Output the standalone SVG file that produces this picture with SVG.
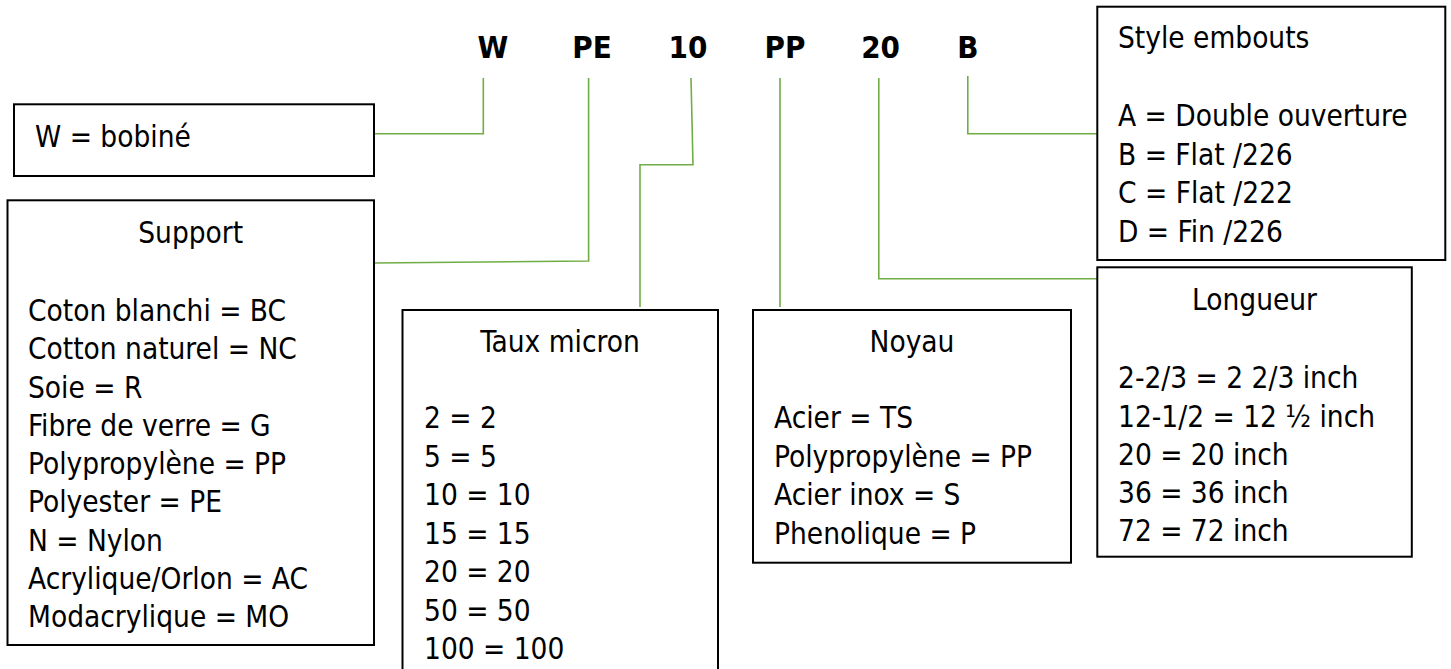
<svg xmlns="http://www.w3.org/2000/svg" width="1451" height="669" viewBox="0 0 1451 669">
<style>
.box{fill:#fff;stroke:#000;stroke-width:2}
.t{font-family:"DejaVu Sans Condensed","DejaVu Sans",sans-serif;font-size:29.5px;fill:#000}
.c{text-anchor:middle}
.code{font-family:"DejaVu Sans Condensed","DejaVu Sans",sans-serif;font-weight:bold;font-size:31px;fill:#000;text-anchor:middle}
.conn{fill:none;stroke:#70ad47;stroke-width:1.6}
</style>
<rect width="1451" height="669" fill="#fff"/>
<g id="connectors">
<polyline class="conn" points="374,133.7 483.3,133.7 483.3,78"/>
<polyline class="conn" points="374,263 588.6,261 588.6,78"/>
<polyline class="conn" points="691,78 693,164.7 640,164.7 640,307"/>
<polyline class="conn" points="780,78 780,307"/>
<polyline class="conn" points="878.8,78 878.8,278.7 1097,278.7"/>
<polyline class="conn" points="967.8,76 967.8,133.7 1097,133.7"/>
</g>
<g id="codes">
<text class="code" x="493" y="58">W</text>
<text class="code" x="592" y="58">PE</text>
<text class="code" x="688" y="58">10</text>
<text class="code" x="785" y="58">PP</text>
<text class="code" x="880.6" y="58">20</text>
<text class="code" x="967.8" y="58">B</text>
</g>
<g id="node-w">
<rect class="box" x="14" y="104.3" width="360" height="71.7"/>
<text class="t" x="35" y="147">W = bobiné</text>
</g>
<g id="node-support">
<rect class="box" x="7.5" y="200.3" width="366.5" height="444.7"/>
<text class="t c" x="190.7" y="243.3">Support</text>
<text class="t" x="28" y="320.7">Coton blanchi = BC</text>
<text class="t" x="28" y="359.2">Cotton naturel = NC</text>
<text class="t" x="28" y="397.5">Soie = R</text>
<text class="t" x="28" y="435.8">Fibre de verre = G</text>
<text class="t" x="28" y="474.1">Polypropylène = PP</text>
<text class="t" x="28" y="512.4">Polyester = PE</text>
<text class="t" x="28" y="550.7">N = Nylon</text>
<text class="t" x="28" y="589">Acrylique/Orlon = AC</text>
<text class="t" x="28" y="627.3">Modacrylique = MO</text>
</g>
<g id="node-taux">
<rect class="box" x="402.5" y="310" width="315.5" height="380"/>
<text class="t c" x="560" y="351.7">Taux micron</text>
<text class="t" x="424" y="428.3">2 = 2</text>
<text class="t" x="424" y="466.7">5 = 5</text>
<text class="t" x="424" y="505.2">10 = 10</text>
<text class="t" x="424" y="543.7">15 = 15</text>
<text class="t" x="424" y="582.2">20 = 20</text>
<text class="t" x="424" y="620.7">50 = 50</text>
<text class="t" x="424" y="659.2">100 = 100</text>
</g>
<g id="node-noyau">
<rect class="box" x="753" y="310" width="318" height="252.7"/>
<text class="t c" x="912" y="351.7">Noyau</text>
<text class="t" x="774" y="428.3">Acier = TS</text>
<text class="t" x="774" y="466.7">Polypropylène = PP</text>
<text class="t" x="774" y="505.2">Acier inox = S</text>
<text class="t" x="774" y="543.7">Phenolique = P</text>
</g>
<g id="node-style">
<rect class="box" x="1097.3" y="6.7" width="348" height="253.3"/>
<text class="t" x="1118" y="48.3">Style embouts</text>
<text class="t" x="1118" y="126">A = Double ouverture</text>
<text class="t" x="1118" y="164.6">B = Flat /226</text>
<text class="t" x="1118" y="203.2">C = Flat /222</text>
<text class="t" x="1118" y="241.7">D = Fin /226</text>
</g>
<g id="node-longueur">
<rect class="box" x="1097.3" y="267.3" width="314.5" height="289.4"/>
<text class="t c" x="1254.5" y="309.5">Longueur</text>
<text class="t" x="1118" y="388">2-2/3 = 2 2/3 inch</text>
<text class="t" x="1118" y="426.5">12-1/2 = 12 ½ inch</text>
<text class="t" x="1118" y="464.8">20 = 20 inch</text>
<text class="t" x="1118" y="503">36 = 36 inch</text>
<text class="t" x="1118" y="541.3">72 = 72 inch</text>
</g>
</svg>
